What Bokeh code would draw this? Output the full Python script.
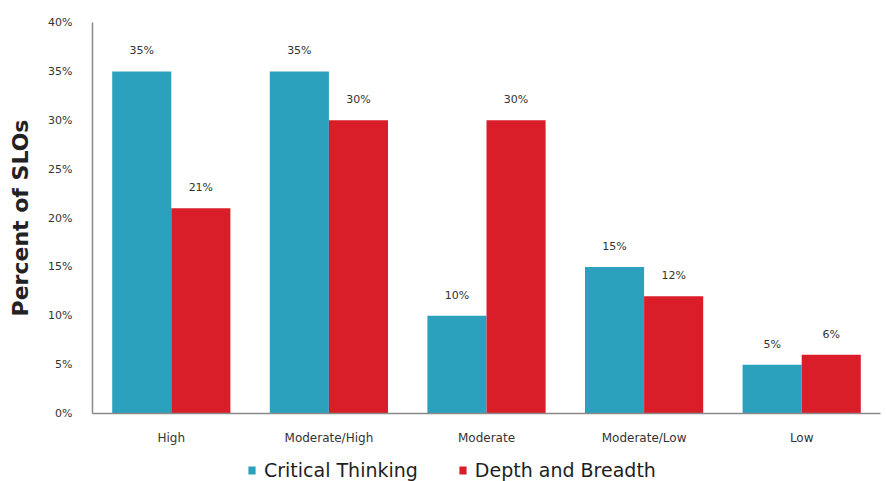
from bokeh.plotting import figure
from bokeh.layouts import column
from bokeh.models import ColumnDataSource, Legend, LegendItem, PrintfTickFormatter, FixedTicker, LabelSet, Range1d
from bokeh.transform import dodge
from bokeh.embed import file_html
from bokeh.resources import INLINE
from bokeh.core.properties import value

categories = ["High", "Moderate/High", "Moderate", "Moderate/Low", "Low"]
critical_thinking = [35, 35, 10, 15, 5]
depth_breadth = [21, 30, 30, 12, 6]
y_ticks = [0, 5, 10, 15, 20, 25, 30, 35, 40]
series_names = ["Critical Thinking", "Depth and Breadth"]

CYAN = "#2BA1BD"
RED = "#D91E2A"

src = ColumnDataSource(dict(
    cat=categories,
    ct=critical_thinking,
    db=depth_breadth,
    ct_lbl=[f"{v}%" for v in critical_thinking],
    db_lbl=[f"{v}%" for v in depth_breadth],
))

p = figure(x_range=categories, y_range=Range1d(0, 40), width=886, height=447,
           output_backend="svg", toolbar_location=None,
           min_border_left=92, min_border_right=6, min_border_top=22, min_border_bottom=34)
p.x_range.range_padding = 0
p.outline_line_color = None
p.xgrid.grid_line_color = None
p.ygrid.grid_line_color = None

bw = 0.375
p.vbar(x=dodge("cat", -bw / 2, range=p.x_range), top="ct", width=bw, source=src,
       fill_color=CYAN, line_color=None)
p.vbar(x=dodge("cat", bw / 2, range=p.x_range), top="db", width=bw, source=src,
       fill_color=RED, line_color=None)

for col, lbl, off in [("ct", "ct_lbl", -bw / 2), ("db", "db_lbl", bw / 2)]:
    ls = LabelSet(x=dodge("cat", off, range=p.x_range), y=col, text=lbl, source=src,
                  text_align="center", text_baseline="bottom", y_offset=14,
                  text_font=value("DejaVu Sans"), text_font_size="11px", text_color="#333333")
    p.add_layout(ls)

p.yaxis.ticker = FixedTicker(ticks=y_ticks)
p.yaxis.formatter = PrintfTickFormatter(format="%d%%")
p.yaxis.axis_label = "Percent of SLOs"
p.yaxis.axis_label_text_font = "DejaVu Sans"
p.yaxis.axis_label_text_font_style = "bold"
p.yaxis.axis_label_text_font_size = "22px"
p.yaxis.axis_label_text_color = "#222222"
p.yaxis.axis_label_standoff = 12
p.yaxis.major_label_standoff = 14

for ax in (p.xaxis, p.yaxis):
    ax.major_tick_line_color = None
    ax.minor_tick_line_color = None
    ax.axis_line_color = "#8a8a8a"
    ax.axis_line_width = 1.5
    ax.major_label_text_font = "DejaVu Sans"
    ax.major_label_text_font_size = "11px"
    ax.major_label_text_color = "#333333"

p.xaxis.major_label_text_font_size = "12px"
p.xaxis.major_label_standoff = 11

# legend strip below the chart (legend-only renderers sit outside the visible range)
lg = figure(width=886, height=34, output_backend="svg", toolbar_location=None,
            x_range=Range1d(0, 1), y_range=Range1d(0, 1),
            min_border=0, min_border_left=0, min_border_right=0, min_border_top=0, min_border_bottom=0)
lg.axis.visible = False
lg.grid.visible = False
lg.outline_line_color = None
d1 = lg.vbar(x=[-5], top=[-5], bottom=[-6], width=0.1, fill_color=CYAN, line_color=None)
d2 = lg.vbar(x=[-5], top=[-5], bottom=[-6], width=0.1, fill_color=RED, line_color=None)
legend = Legend(items=[LegendItem(label=series_names[0], renderers=[d1]),
                       LegendItem(label=series_names[1], renderers=[d2])],
                orientation="horizontal", location=(155, 0),
                label_text_font="DejaVu Sans", label_text_font_size="19px",
                label_text_color="#1e1e1e", glyph_width=9, glyph_height=10,
                spacing=40, border_line_color=None, background_fill_alpha=0,
                padding=0, margin=0, label_standoff=8)
lg.add_layout(legend)

layout = column(p, lg, spacing=0)
open("out.html", "w").write(file_html(layout, INLINE))
